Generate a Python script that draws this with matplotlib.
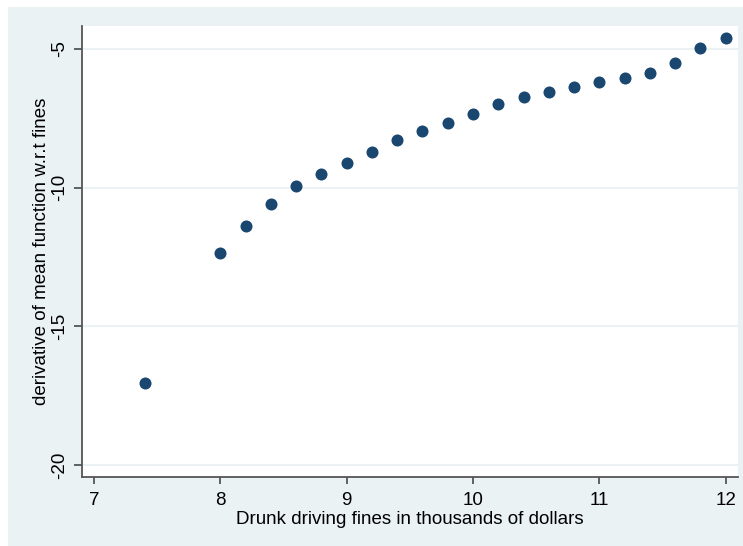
import matplotlib
matplotlib.use('Agg')
import matplotlib.pyplot as plt
from matplotlib.patches import Rectangle

# fines (thousands of dollars) and derivative of mean function
fines = [7.4, 8.0, 8.2, 8.4, 8.6, 8.8, 9.0, 9.2, 9.4, 9.6, 9.8, 10.0,
         10.2, 10.4, 10.6, 10.8, 11.0, 11.2, 11.4, 11.6, 11.8, 12.0]
deriv = [-17.04, -12.35, -11.38, -10.59, -9.94, -9.51, -9.11, -8.71, -8.28,
         -7.96, -7.67, -7.34, -6.98, -6.73, -6.55, -6.37, -6.19, -6.05,
         -5.87, -5.50, -4.96, -4.60]
x_ticks = [7, 8, 9, 10, 11, 12]
y_ticks = [-20, -15, -10, -5]

W, H = 743, 546
BG = '#EAF2F3'
plt.rcParams['font.family'] = ['Liberation Sans', 'DejaVu Sans']

fig = plt.figure(figsize=(W / 100, H / 100), dpi=100, facecolor='white')
# Stata-style outer background panel
fig.patches.append(Rectangle((8 / W, 0), 1 - 8 / W, 1 - 7 / H,
                             transform=fig.transFigure, facecolor=BG,
                             edgecolor='none', zorder=-10))

ax = fig.add_axes([82 / W, 1 - 477 / H, (738 - 82) / W, (477 - 26) / H])
ax.set_zorder(1)
ax.set_facecolor('white')
ax.scatter(fines, deriv, s=75, color='#1A476F', zorder=3, linewidths=0)

ax.set_xlim(6.905, 12.098)
ax.set_ylim(-20.43, -4.17)
ax.set_xticks(x_ticks)
ax.set_yticks(y_ticks)
ax.set_yticklabels([str(v) for v in y_ticks], rotation=90, va='center')
ax.grid(axis='y', color=BG, linewidth=1.5, zorder=1)
ax.set_axisbelow(True)

for side in ['top', 'right']:
    ax.spines[side].set_visible(False)
for side in ['left', 'bottom']:
    ax.spines[side].set_color('#555555')
    ax.spines[side].set_linewidth(1.3)
ax.tick_params(axis='both', colors='#555555', width=1.3, labelsize=13.5,
               labelcolor='black')
ax.tick_params(axis='y', length=5.8, pad=4.3)
ax.tick_params(axis='x', length=5, pad=6)

ax.set_xlabel('Drunk driving fines in thousands of dollars', fontsize=13.5,
              labelpad=1)
ax.set_ylabel('derivative of mean function w.r.t fines', fontsize=13.5,
              labelpad=1)

fig.savefig('out.png', dpi=100, facecolor='white')
